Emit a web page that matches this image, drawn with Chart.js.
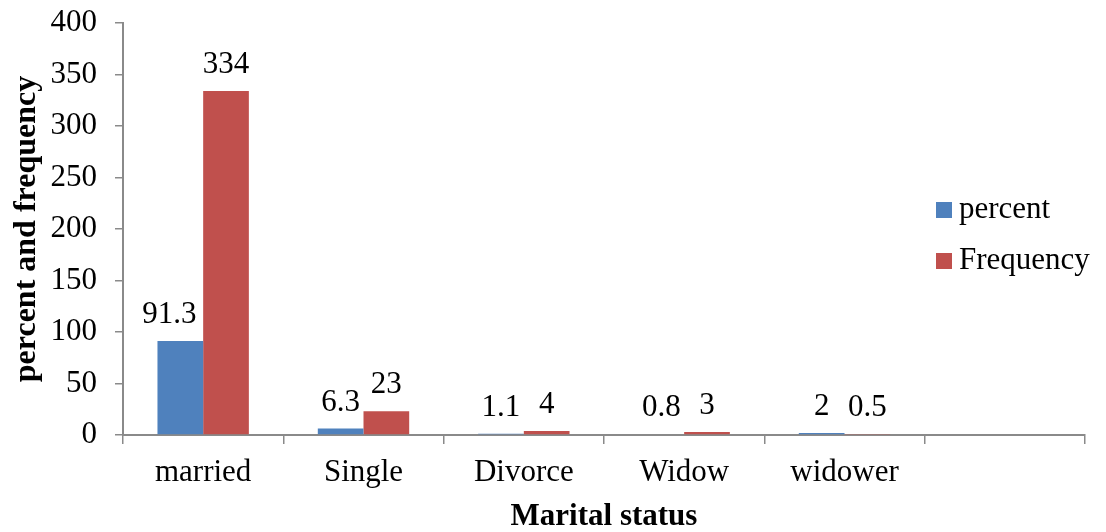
<!DOCTYPE html>
<html>
<head>
<meta charset="utf-8">
<script src="https://cdn.jsdelivr.net/npm/chart.js@4.4.1/dist/chart.umd.min.js"></script>
<style>
  html, body { margin: 0; padding: 0; background: #fff; }
  #wrap { width: 1106px; height: 532px; }
</style>
</head>
<body>
<div id="wrap"><canvas id="c" width="1106" height="532"></canvas></div>
<script>
// Marital status categories (last slot is an empty category on the axis)
const categories = ['married', 'Single', 'Divorce', 'Widow', 'widower', ''];
const percentValues = [91.3, 6.3, 1.1, 0.8, 2, null];
const frequencyValues = [334, 23, 4, 3, 0.5, null];
const yTicks = [0, 50, 100, 150, 200, 250, 300, 350, 400];

const FONT = "'Liberation Serif', 'Times New Roman', serif";
const FONT_SIZE = 31;
const AXIS_GREY = '#8a8a8a';

// Horizontal nudges for individual value labels, keyed "dataset:index"
const labelNudge = { '0:0': -11 };

// Value labels above each bar
const valueLabels = {
  id: 'valueLabels',
  afterDatasetsDraw(chart) {
    const ctx = chart.ctx;
    ctx.save();
    ctx.font = FONT_SIZE + 'px ' + FONT;
    ctx.fillStyle = '#000';
    ctx.textAlign = 'center';
    ctx.textBaseline = 'alphabetic';
    chart.data.datasets.forEach((ds, i) => {
      const meta = chart.getDatasetMeta(i);
      meta.data.forEach((bar, j) => {
        const v = ds.data[j];
        if (v === null || v === undefined) return;
        const dx = labelNudge[i + ':' + j] || 0;
        ctx.fillText(String(v), bar.x + dx, bar.y - 18);
      });
    });
    ctx.restore();
  }
};

// Legend drawn inside the plot on the right
const sideLegend = {
  id: 'sideLegend',
  afterDraw(chart) {
    const ctx = chart.ctx;
    ctx.save();
    ctx.font = FONT_SIZE + 'px ' + FONT;
    ctx.textAlign = 'left';
    ctx.textBaseline = 'middle';
    chart.data.datasets.forEach((ds, i) => {
      const y = 210 + i * 51;
      ctx.fillStyle = ds.backgroundColor;
      ctx.fillRect(936, y - 8, 16, 16);
      ctx.fillStyle = '#000';
      ctx.fillText(ds.label, 959, y);
    });
    ctx.restore();
  }
};

new Chart(document.getElementById('c'), {
  type: 'bar',
  data: {
    labels: categories,
    datasets: [
      { label: 'percent', data: percentValues, backgroundColor: '#4F81BD' },
      { label: 'Frequency', data: frequencyValues, backgroundColor: '#C0504D' }
    ]
  },
  options: {
    responsive: false,
    animation: false,
    devicePixelRatio: 1,
    layout: { padding: { top: 23, right: 21, left: 0, bottom: 0 } },
    datasets: { bar: { categoryPercentage: 0.57, barPercentage: 1 } },
    plugins: { legend: { display: false }, tooltip: { enabled: false } },
    scales: {
      x: {
        grid: {
          offset: true,
          drawOnChartArea: false,
          drawTicks: true,
          tickLength: 9,
          color: AXIS_GREY,
          lineWidth: 1.5
        },
        border: { display: true, color: AXIS_GREY, width: 2 },
        ticks: { color: '#000', font: { family: FONT, size: FONT_SIZE }, padding: 10 },
        title: {
          display: true,
          text: 'Marital status',
          color: '#000',
          font: { family: FONT, size: FONT_SIZE, weight: 'bold', lineHeight: 1.0 },
          padding: { top: 0, bottom: 0 }
        },
        afterFit(scale) {
          scale.height = 97;
          scale.paddingLeft = 0;
          scale.paddingRight = 0;
        }
      },
      y: {
        min: 0,
        max: 400,
        afterBuildTicks(scale) { scale.ticks = yTicks.map(v => ({ value: v })); },
        grid: {
          drawOnChartArea: false,
          drawTicks: true,
          tickLength: 8,
          color: AXIS_GREY,
          lineWidth: 1.5
        },
        border: { display: true, color: AXIS_GREY, width: 2 },
        ticks: { color: '#000', font: { family: FONT, size: FONT_SIZE }, padding: 18 },
        title: {
          display: true,
          text: 'percent and frequency',
          color: '#000',
          font: { family: FONT, size: 32, weight: 'bold' },
          padding: { top: 8, bottom: 0 }
        },
        afterFit(scale) {
          scale.width = 123;
          scale.paddingTop = 0;
          scale.paddingBottom = 0;
        }
      }
    }
  },
  plugins: [valueLabels, sideLegend]
});
</script>
</body>
</html>
